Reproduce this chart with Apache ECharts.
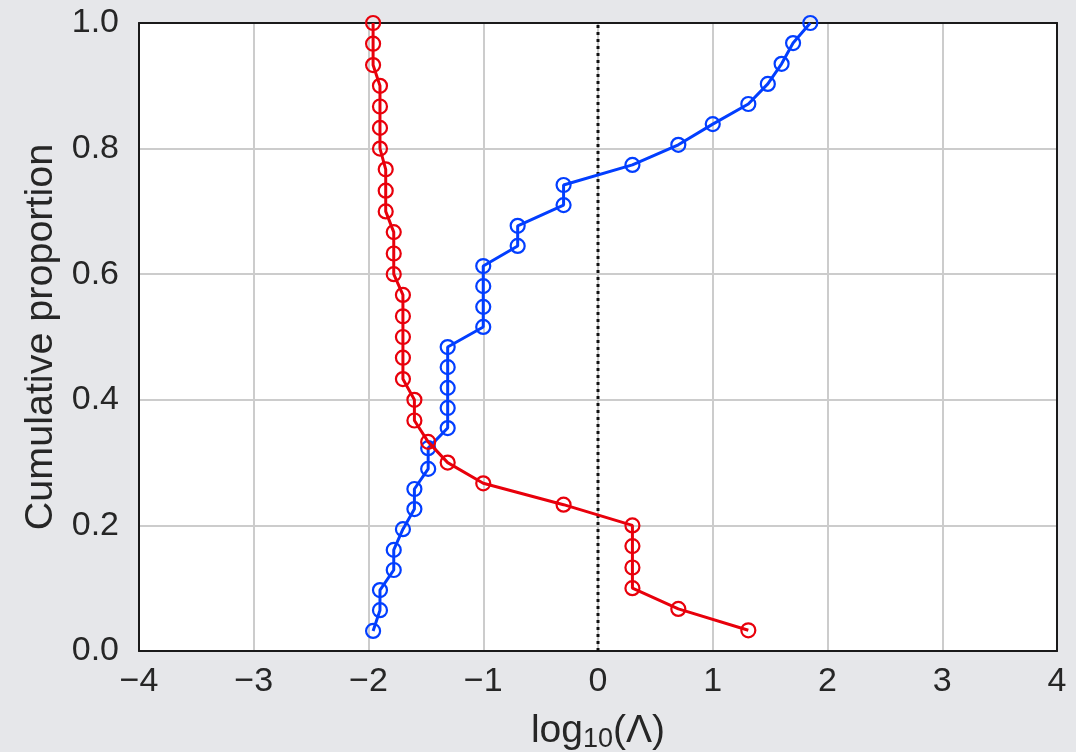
<!DOCTYPE html>
<html>
<head>
<meta charset="utf-8">
<script src="https://cdn.jsdelivr.net/npm/echarts@6/dist/echarts.min.js"></script>
<style>
html,body{margin:0;padding:0;background:#e6e7ea;}
#chart{width:1076px;height:752px;}
</style>
</head>
<body>
<div id="chart"></div>
<script>
// Blue series: x values (log10 Λ) and cumulative proportions
const blueX = [-1.96, -1.90, -1.90, -1.78, -1.78, -1.70, -1.60, -1.60, -1.48, -1.48,
  -1.31, -1.31, -1.31, -1.31, -1.31, -1.00, -1.00, -1.00, -1.00, -0.70,
  -0.70, -0.30, -0.30, 0.30, 0.70, 1.00, 1.31, 1.48, 1.60, 1.70, 1.85];
const blueY = [0.032, 0.065, 0.097, 0.129, 0.161, 0.194, 0.226, 0.258, 0.290, 0.323,
  0.355, 0.387, 0.419, 0.452, 0.484, 0.516, 0.548, 0.581, 0.613, 0.645,
  0.677, 0.710, 0.742, 0.774, 0.806, 0.839, 0.871, 0.903, 0.935, 0.968, 1.000];
// Red series
const redX = [1.31, 0.70, 0.30, 0.30, 0.30, 0.30, -0.30, -1.00, -1.31, -1.48,
  -1.60, -1.60, -1.70, -1.70, -1.70, -1.70, -1.70, -1.78, -1.78, -1.78,
  -1.85, -1.85, -1.85, -1.90, -1.90, -1.90, -1.90, -1.96, -1.96, -1.96];
const redY = [0.033, 0.067, 0.100, 0.133, 0.167, 0.200, 0.233, 0.267, 0.300, 0.333,
  0.367, 0.400, 0.433, 0.467, 0.500, 0.533, 0.567, 0.600, 0.633, 0.667,
  0.700, 0.733, 0.767, 0.800, 0.833, 0.867, 0.900, 0.933, 0.967, 1.000];
// Reference line
const refX = 0;
// Axis ticks
const xTicks = [-4, -3, -2, -1, 0, 1, 2, 3, 4];
const yTicks = [0.0, 0.2, 0.4, 0.6, 0.8, 1.0];

const FONT = '"Liberation Sans", Arial, sans-serif';
const TXT = '#262626';
const SPINE = { show: true, onZero: false, lineStyle: { color: '#1a1a1a', width: 2 } };
const yMin = yTicks[0], yMax = yTicks[yTicks.length - 1];

function pairs(xs, ys) { return xs.map((x, i) => [x, ys[i]]); }

function lineSeries(name, xs, ys, color, z) {
  return {
    name: name,
    type: 'line',
    data: pairs(xs, ys),
    symbol: 'circle',
    symbolSize: 14,
    showAllSymbol: true,
    clip: true,
    lineStyle: { color: color, width: 3 },
    itemStyle: { color: 'rgba(0,0,0,0)', borderColor: color, borderWidth: 2.2 },
    emphasis: { disabled: true },
    animation: false,
    z: z
  };
}

const chart = echarts.init(document.getElementById('chart'), null, { renderer: 'canvas' });
chart.setOption({
  backgroundColor: '#e6e7ea',
  animation: false,
  textStyle: { fontFamily: FONT, color: TXT },
  grid: {
    left: 139, right: 19, top: 23, bottom: 101,
    containLabel: false, outerBoundsMode: 'none',
    show: true, backgroundColor: '#ffffff', borderWidth: 0
  },
  xAxis: [{
    type: 'value',
    min: xTicks[0], max: xTicks[xTicks.length - 1], interval: 1,
    position: 'bottom',
    axisLine: SPINE,
    axisTick: { show: false },
    splitLine: { show: true, lineStyle: { color: '#cccccc', width: 2 } },
    axisLabel: {
      fontSize: 34, color: TXT, fontFamily: FONT, margin: 14,
      formatter: v => String(v).replace('-', '\u2212')
    },
    name: '{n|log}{s|10}{n|(\u039b)}',
    nameLocation: 'middle',
    nameGap: 58,
    nameTextStyle: {
      rich: {
        n: { fontSize: 39, color: TXT, fontFamily: FONT, verticalAlign: 'middle', lineHeight: 44 },
        s: { fontSize: 27, color: TXT, fontFamily: FONT, verticalAlign: 'bottom', lineHeight: 24 }
      }
    },
    z: 10
  }, {
    type: 'value',
    min: xTicks[0], max: xTicks[xTicks.length - 1], interval: 1,
    position: 'top',
    axisLine: SPINE,
    axisTick: { show: false },
    axisLabel: { show: false },
    splitLine: { show: false },
    z: 10
  }],
  yAxis: [{
    type: 'value',
    min: yMin, max: yMax, interval: 0.2,
    position: 'left',
    axisLine: SPINE,
    axisTick: { show: false },
    splitLine: { show: true, lineStyle: { color: '#cccccc', width: 2 } },
    axisLabel: {
      fontSize: 34, color: TXT, fontFamily: FONT, margin: 20,
      formatter: v => v.toFixed(1)
    },
    name: 'Cumulative proportion',
    nameLocation: 'middle',
    nameGap: 78,
    nameTextStyle: { fontSize: 39.5, color: TXT, fontFamily: FONT },
    z: 10
  }, {
    type: 'value',
    min: yMin, max: yMax, interval: 0.2,
    position: 'right',
    axisLine: SPINE,
    axisTick: { show: false },
    axisLabel: { show: false },
    splitLine: { show: false },
    z: 10
  }],
  series: [
    {
      name: 'ref',
      type: 'line',
      data: [[refX, yMin], [refX, yMax]],
      symbol: 'none',
      lineStyle: { color: '#111111', type: [3, 4], width: 3 },
      emphasis: { disabled: true },
      silent: true,
      animation: false,
      z: 20
    },
    lineSeries('blue', blueX, blueY, '#023eff', 21),
    lineSeries('red', redX, redY, '#e8000b', 22)
  ]
});
</script>
</body>
</html>
